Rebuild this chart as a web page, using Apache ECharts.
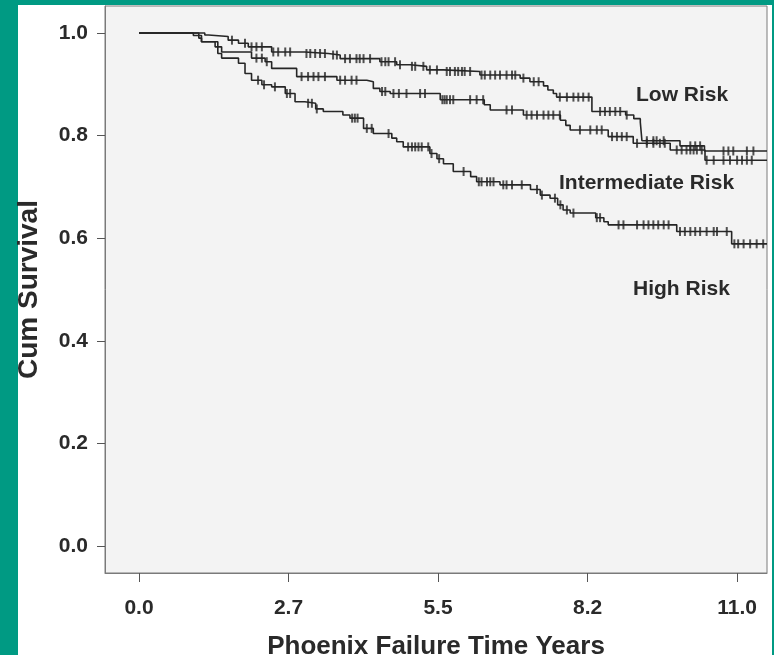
<!DOCTYPE html>
<html>
<head>
<meta charset="utf-8">
<script src="https://cdn.jsdelivr.net/npm/echarts@6/dist/echarts.min.js"></script>
<style>
  html, body { margin: 0; padding: 0; background: #009a83; overflow: hidden; }
  #panel { position: absolute; left: 18px; top: 5px; width: 754px; height: 650px; background: #fff; }
  #chart { position: absolute; left: 0; top: 0; width: 774px; height: 655px; }
</style>
</head>
<body>
<div id="panel"></div>
<div id="chart"></div>
<script>
// tick positions and their printed labels (SPSS rounds 2.75 -> 2.7, 8.25 -> 8.2)
const xTicks = [0, 2.75, 5.5, 8.25, 11]
const xTickLabels = ['0.0', '2.7', '5.5', '8.2', '11.0']
const yTicks = [0, 0.2, 0.4, 0.6, 0.8, 1.0]
const yTickLabels = ['0.0', '0.2', '0.4', '0.6', '0.8', '1.0']

// Kaplan-Meier steps: [time, survival from that time on]
const lowSteps = [
  [0, 1.0], [1.21, 0.996], [1.28, 0.993], [1.64, 0.986], [1.83, 0.980], [2.01, 0.973],
  [2.44, 0.963], [3.05, 0.960], [3.48, 0.957], [3.70, 0.950], [4.43, 0.944], [4.74, 0.938],
  [4.99, 0.935], [5.29, 0.928], [5.60, 0.925], [6.27, 0.918], [7.01, 0.912], [7.19, 0.905],
  [7.44, 0.897], [7.52, 0.889], [7.62, 0.882], [7.68, 0.875], [8.33, 0.847], [8.95, 0.840],
  [9.10, 0.833], [9.22, 0.826], [9.25, 0.790], [9.95, 0.780], [10.40, 0.770], [11.55, 0.770]
]
const midSteps = [
  [0, 1.0], [1.10, 0.990], [1.15, 0.983], [1.45, 0.973], [1.52, 0.963], [2.07, 0.951],
  [2.32, 0.944], [2.44, 0.931], [2.90, 0.915], [3.64, 0.908], [4.19, 0.905], [4.31, 0.892],
  [4.43, 0.886], [4.62, 0.882], [5.54, 0.870], [6.35, 0.860], [6.46, 0.850], [7.07, 0.840],
  [7.75, 0.830], [7.85, 0.820], [7.93, 0.811], [8.63, 0.798], [9.09, 0.785], [9.77, 0.772],
  [10.41, 0.752], [11.55, 0.752]
]
const highSteps = [
  [0, 1.0], [1.00, 0.995], [1.15, 0.983], [1.40, 0.973], [1.45, 0.960], [1.52, 0.951],
  [1.83, 0.941], [1.95, 0.921], [2.07, 0.908], [2.26, 0.899], [2.44, 0.895], [2.69, 0.882],
  [2.87, 0.866], [3.05, 0.863], [3.25, 0.852], [3.39, 0.847], [3.75, 0.840], [3.88, 0.834],
  [4.13, 0.814], [4.31, 0.804], [4.65, 0.795], [4.74, 0.788], [4.86, 0.778], [5.35, 0.765],
  [5.48, 0.755], [5.60, 0.745], [5.78, 0.730], [6.10, 0.720], [6.21, 0.710], [6.64, 0.704],
  [7.20, 0.695], [7.38, 0.684], [7.56, 0.678], [7.70, 0.665], [7.80, 0.655], [7.93, 0.649],
  [8.40, 0.640], [8.55, 0.632], [8.63, 0.626], [9.89, 0.613], [10.90, 0.589], [11.55, 0.589]
]

// censored times (the small vertical ticks on each curve)
const lowCensor = [
  1.71, 1.95, 2.07, 2.16, 2.26, 2.47, 2.56, 2.69, 2.78, 3.08, 3.15, 3.24, 3.33, 3.42, 3.57,
  3.64, 3.79, 3.88, 4.00, 4.06, 4.13, 4.25, 4.46, 4.53, 4.59, 4.71, 4.80, 5.02, 5.08, 5.23,
  5.35, 5.48, 5.66, 5.72, 5.81, 5.87, 5.94, 5.99, 6.09, 6.30, 6.36, 6.46, 6.55, 6.64, 6.76,
  6.86, 6.92, 7.07, 7.26, 7.35, 7.74, 7.87, 7.99, 8.08, 8.17, 8.27, 8.48, 8.57, 8.66, 8.76,
  8.85, 8.97, 9.34, 9.46, 9.52, 9.65, 10.14, 10.23, 10.32, 10.75, 10.84, 10.93, 11.18, 11.30
]
const midCensor = [
  2.16, 2.26, 2.35, 2.99, 3.11, 3.21, 3.30, 3.42, 3.70, 3.79, 3.91, 4.00, 4.47, 4.53, 4.68,
  4.78, 4.92, 5.17, 5.26, 5.58, 5.62, 5.66, 5.72, 5.78, 6.09, 6.21, 6.33, 6.76, 6.86, 7.13,
  7.22, 7.32, 7.44, 7.53, 7.62, 7.74, 8.11, 8.30, 8.42, 8.51, 8.70, 8.79, 8.88, 8.97, 9.16,
  9.34, 9.46, 9.58, 9.67, 9.89, 9.98, 10.07, 10.14, 10.20, 10.26, 10.35, 10.44, 10.57, 10.75,
  10.87, 11.00, 11.09, 11.18, 11.27
]
const highCensor = [
  2.19, 2.30, 2.50, 2.72, 2.78, 3.11, 3.18, 3.27, 3.92, 3.97, 4.02, 4.19, 4.28, 4.59, 4.95,
  5.02, 5.08, 5.14, 5.20, 5.32, 5.38, 5.52, 5.97, 6.25, 6.30, 6.40, 6.46, 6.52, 6.70, 6.76,
  6.86, 7.04, 7.32, 7.41, 7.65, 7.75, 7.87, 7.99, 8.42, 8.48, 8.82, 8.91, 9.16, 9.28, 9.37,
  9.46, 9.55, 9.65, 9.74, 9.95, 10.04, 10.14, 10.23, 10.32, 10.44, 10.57, 10.63, 10.81,
  10.95, 11.02, 11.12, 11.24, 11.36, 11.48
]

const ink = '#262626'
const font = '"Liberation Sans", Arial, sans-serif'

// survival at time t
const survAt = (steps, t) => {
  let s = steps[0][1]
  for (const [st, sv] of steps) {
    if (st <= t) s = sv
  }
  return s
}

const curve = (steps) => ({
  type: 'line',
  step: 'end',
  data: steps,
  symbol: 'none',
  lineStyle: { color: ink, width: 1.6 },
  silent: true,
  z: 3
})

const censor = (steps, times) => ({
  type: 'scatter',
  data: times.map(t => [t, survAt(steps, t)]),
  symbol: 'rect',
  symbolSize: [2, 9],
  itemStyle: { color: ink },
  silent: true,
  z: 4
})

const mychart = echarts.init(document.getElementById('chart'))

const options = {
  animation: false,
  backgroundColor: 'transparent',
  grid: {
    left: 105, top: 6, right: 7, bottom: 82,
    outerBoundsMode: 'none',
    containLabel: false,
    show: true,
    backgroundColor: '#f3f3f3',
    borderColor: '#7a7a7a',
    borderWidth: 1
  },
  xAxis: {
    type: 'value',
    min: -0.625,
    max: 11.55,
    name: 'Phoenix Failure Time Years',
    nameLocation: 'middle',
    nameGap: 61,
    nameTextStyle: { fontFamily: font, fontWeight: 'bold', fontSize: 26, color: '#2a2a2a' },
    axisLine: { onZero: false, lineStyle: { color: '#7a7a7a', width: 1 } },
    axisTick: { show: true, length: 9, customValues: xTicks, lineStyle: { color: '#555' } },
    axisLabel: {
      customValues: xTicks,
      margin: 25,
      fontFamily: font, fontWeight: 'bold', fontSize: 21, color: '#2a2a2a',
      formatter: (v) => xTickLabels[xTicks.indexOf(v)] ?? ''
    },
    splitLine: { show: false }
  },
  yAxis: {
    type: 'value',
    min: -0.0526,
    max: 1.0526,
    name: 'Cum Survival',
    nameLocation: 'middle',
    nameGap: 62,
    nameTextStyle: { fontFamily: font, fontWeight: 'bold', fontSize: 28, color: '#2a2a2a' },
    axisLine: { show: true, onZero: false, lineStyle: { color: '#7a7a7a', width: 1 } },
    axisTick: { show: true, length: 8, customValues: yTicks, lineStyle: { color: '#555' } },
    axisLabel: {
      customValues: yTicks,
      margin: 17,
      fontFamily: font, fontWeight: 'bold', fontSize: 21, color: '#2a2a2a',
      formatter: (v) => yTickLabels[yTicks.findIndex(y => Math.abs(y - v) < 1e-6)] ?? ''
    },
    splitLine: { show: false }
  },
  graphic: [
    { type: 'text', left: 636, top: 85, style: { text: 'Low Risk', font: 'bold 21px ' + font, fill: '#2a2a2a' } },
    { type: 'text', left: 559, top: 173, style: { text: 'Intermediate Risk', font: 'bold 21px ' + font, fill: '#2a2a2a' } },
    { type: 'text', left: 633, top: 279, style: { text: 'High Risk', font: 'bold 21px ' + font, fill: '#2a2a2a' } }
  ],
  series: [
    curve(lowSteps), curve(midSteps), curve(highSteps),
    censor(lowSteps, lowCensor), censor(midSteps, midCensor), censor(highSteps, highCensor)
  ]
}

mychart.setOption(options)
window.addEventListener('resize', () => mychart.resize(), false)
</script>
</body>
</html>
